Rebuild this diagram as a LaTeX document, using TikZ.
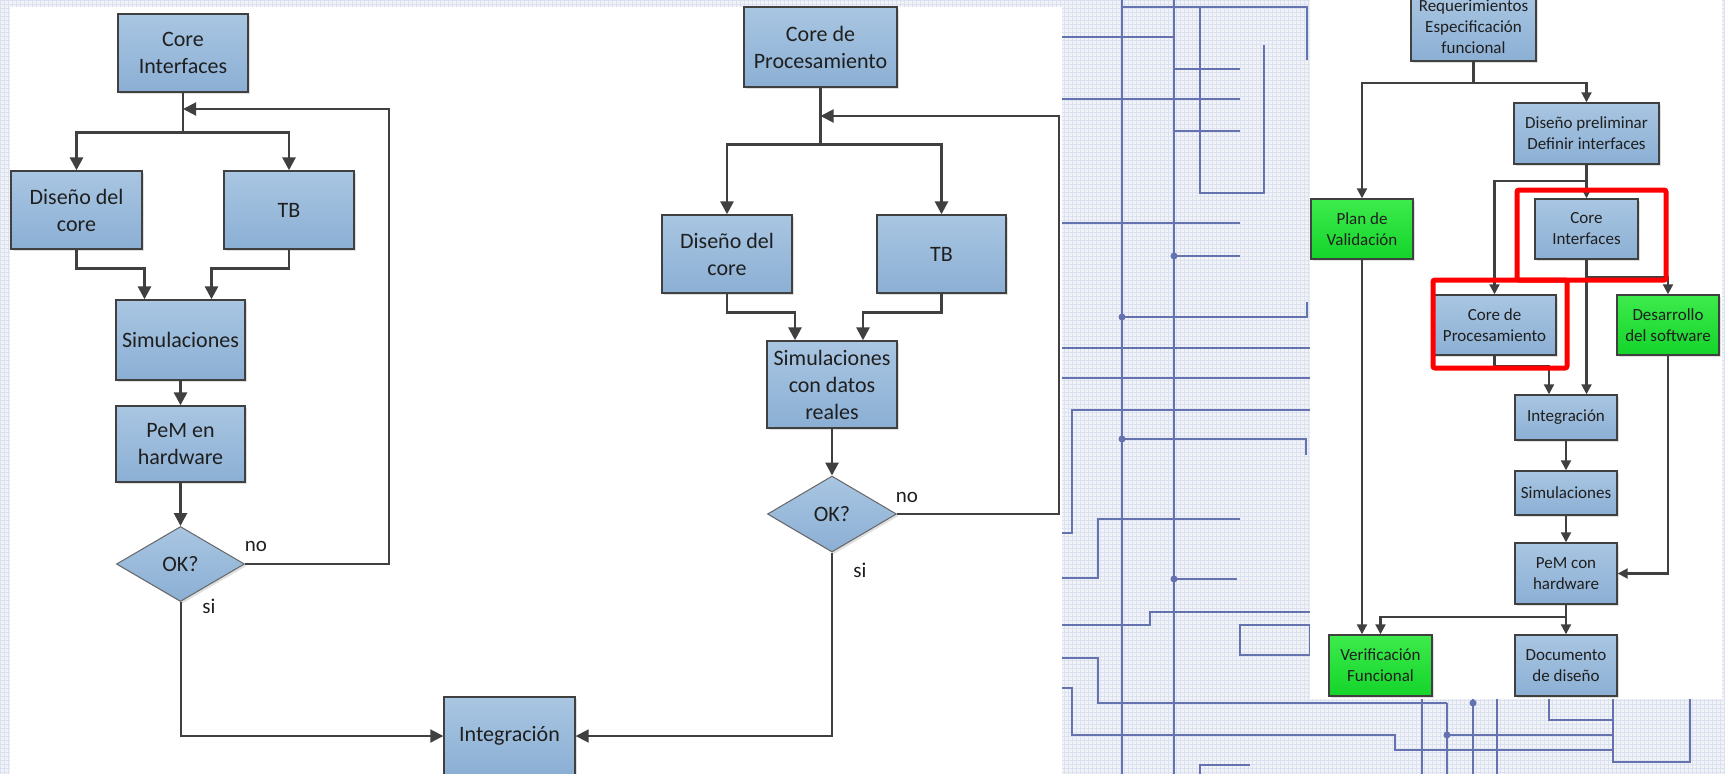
\documentclass[tikz,border=0pt]{standalone}
\usepackage{fontspec}
\setmainfont{Carlito}
\usetikzlibrary{arrows.meta,shapes.geometric,shadows}

\definecolor{bt}{HTML}{A9C6E2}
\definecolor{bb}{HTML}{8BAFD4}
\definecolor{gt}{HTML}{3DEB4C}
\definecolor{gb}{HTML}{14D42A}
\definecolor{ln}{HTML}{404040}
\definecolor{sk}{HTML}{6473B0}
\definecolor{paper}{HTML}{F1F3F9}
\definecolor{grd}{HTML}{DCE1EF}

\tikzset{
  sz/.style 2 args={minimum width=#1pt, minimum height=#2pt},
  box/.style={draw=ln, line width=1.4pt, top color=bt, bottom color=bb,
    inner sep=0pt, align=center, text=black!88,
    drop shadow={shadow xshift=2pt, shadow yshift=-2pt, opacity=0.25, fill=black!50}},
  bigbox/.style={box, font=\fontsize{22pt}{27pt}\selectfont},
  smallbox/.style={box, font=\fontsize{17pt}{21pt}\selectfont},
  grn/.style={top color=gt, bottom color=gb},
  ask/.style={bigbox, diamond, line width=1pt, draw=ln!80},
  arr/.style={draw=ln, line width=2.8pt, -{Triangle[length=13pt,width=13pt]}},
  back/.style={draw=ln, line width=2pt, -{Triangle[length=13pt,width=13pt]}},
  rarr/.style={draw=ln, line width=2.1pt, -{Triangle[length=10pt,width=10pt]}},
  lbl/.style={inner sep=0pt, text=black!88, font=\fontsize{21pt}{25pt}\selectfont},
  hilite/.style={draw=red, line width=5pt, rounded corners=2pt}
}

\begin{document}
\begin{tikzpicture}[x=1pt,y=-1pt]
  \useasboundingbox (0,0) rectangle (1725,774);
  \begin{scope}
  \clip (0,0) rectangle (1725,774);

  % the blueprint behind
  \fill[paper] (0,0) rectangle (1725,774);
  \draw[grd, line width=0.4pt, step=4pt] (0,0) grid (1725,774);
  \draw[sk, line width=1.4pt]
    (1122,0) -- (1122,774) (1174,0) -- (1174,774)
    (1122,7) -- (1307,7) -- (1307,60)
    (1060,37) -- (1174,37)
    (1200,7) -- (1200,193) -- (1264,193) -- (1264,45)
    (1174,69) -- (1240,69) (1060,99) -- (1240,99) (1174,131) -- (1240,131)
    (1060,223) -- (1240,223) (1174,256) -- (1240,256)
    (1122,317) -- (1307,317) -- (1307,302)
    (1060,348) -- (1310,348) (1060,378) -- (1310,378)
    (1060,533) -- (1072,533) -- (1072,410) -- (1310,410)
    (1122,439) -- (1306,439) -- (1306,455)
    (1060,578) -- (1098,578) -- (1098,519) -- (1240,519)
    (1174,579) -- (1237,579)
    (1060,625) -- (1150,625) -- (1150,612) -- (1310,612)
    (1060,658) -- (1098,658) -- (1098,703) -- (1447,703)
    (1060,688) -- (1072,688) -- (1072,735) -- (1395,735) -- (1395,750) -- (1613,750)
    (1240,625) rectangle (1310,655)
    (1200,774) -- (1200,765) -- (1250,765)
    (1422,699) -- (1422,774) (1447,703) -- (1447,774)
    (1473,699) -- (1473,774) (1497,699) -- (1497,774)
    (1549,699) -- (1549,720) -- (1613,720)
    (1447,735) -- (1613,735)
    (1613,699) -- (1613,762) -- (1690,762) -- (1690,699);
  \foreach \p in {(1122,317),(1122,439),(1174,256),(1174,579),(1447,735),(1473,703)}
    \fill[sk] \p circle (3.5pt);

  % white sheets
  \fill[white] (10,7) rectangle (1062,774);
  \fill[white] (1310,0) rectangle (1722,699);

  % left flow: core interfaces
  \node[bigbox, sz={130}{78}] (liCore) at (183,53) {Core\\Interfaces};
  \node[bigbox, sz={131}{78}] (liDis) at (76.5,210) {Diseño del\\core};
  \node[bigbox, sz={130}{78}] (liTB) at (289,210) {TB};
  \node[bigbox, sz={129}{80}] (liSim) at (180.5,340) {Simulaciones};
  \node[bigbox, sz={129}{76}] (liPeM) at (180.5,444) {PeM en\\hardware};
  \node[ask, sz={128}{75}] (liOK) at (180.5,564) {OK?};
  \node[bigbox, sz={131}{78}] (integ) at (509.5,736) {Integración};

  \draw[arr] (liCore.south) -- ++(0,40) -| (liDis.north);
  \draw[arr] (liCore.south) -- ++(0,40) -| (liTB.north);
  \draw[arr] (liDis.south) -- ++(0,19) -| ([xshift=-36pt]liSim.north);
  \draw[arr] (liTB.south) -- ++(0,19) -| ([xshift=31pt]liSim.north);
  \draw[arr] (liSim) -- (liPeM);
  \draw[arr] (liPeM) -- (liOK);
  % no: back up, si: on to integration
  \coordinate (liloop) at (389,109);
  \draw[back] (liOK.east) -| (liloop) -- (liloop -| liCore.south);
  \draw[back] (liOK.south) |- (integ.west);
  \node[lbl] (lino) at (256,546) {no};
  \node[lbl] (lisi) at (209,606) {si};

  % middle flow: core de procesamiento
  \node[bigbox, sz={153}{80}] (miCore) at (820.5,47) {Core de\\Procesamiento};
  \node[bigbox, sz={130}{78}] (miDis) at (727,254) {Diseño del\\core};
  \node[bigbox, sz={129}{78}] (miTB) at (941.5,254) {TB};
  \node[bigbox, sz={130}{87}] (miSim) at (832,384.5) {Simulaciones\\con datos\\reales};
  \node[ask, sz={129}{76}] (miOK) at (832,514) {OK?};

  \draw[arr] (miCore.south) -- ++(0,57) -| (miDis.north);
  \draw[arr] (miCore.south) -- ++(0,57) -| (miTB.north);
  \draw[arr] (miDis.south) -- ++(0,19) -| ([xshift=-37pt]miSim.north);
  \draw[arr] (miTB.south) -- ++(0,19) -| ([xshift=31pt]miSim.north);
  \draw[arr] (miSim) -- (miOK);
  \coordinate (miloop) at (1059,116);
  \draw[back] (miOK.east) -| (miloop) -- (miloop -| miCore.south);
  \draw[back] (miOK.south) |- (integ.east);
  \node[lbl] (mino) at (907,497) {no};
  \node[lbl] (misi) at (860,570) {si};

  % right flow: the whole design
  \node[smallbox, sz={125}{68}] (reqs) at (1473.5,27) {Requerimientos\\Especificación\\funcional};
  \node[smallbox, sz={145}{61}] (dpre) at (1586.5,133.5) {Diseño preliminar\\Definir interfaces};
  \node[smallbox, grn, sz={102}{60}] (plan) at (1362,229) {Plan de\\Validación};
  \node[smallbox, sz={103}{60}] (rcI) at (1586.5,229) {Core\\Interfaces};
  \node[smallbox, sz={123}{60}] (rcP) at (1494.5,325) {Core de\\Procesamiento};
  \node[smallbox, grn, sz={102}{60}] (desa) at (1668,325) {Desarrollo\\del software};
  \node[smallbox, sz={102}{45}] (rint) at (1566,417.5) {Integración};
  \node[smallbox, sz={102}{44}] (rsim) at (1566,493) {Simulaciones};
  \node[smallbox, sz={102}{61}] (rpem) at (1566,573.5) {PeM con\\hardware};
  \node[smallbox, grn, sz={103}{61}] (veri) at (1380.5,665.5) {Verificación\\Funcional};
  \node[smallbox, sz={102}{61}] (doc) at (1566,665.5) {Documento\\de diseño};

  \draw[rarr] (reqs.south) -- ++(0,21) -| (plan.north);
  \draw[rarr] (reqs.south) -- ++(0,21) -| (dpre.north);
  \draw[rarr] (dpre) -- (rcI);
  \draw[rarr] (dpre.south) -- ++(0,16) -| (rcP.north);
  \draw[rarr] (rcI.south) -- ++(0,17) -| (desa.north);
  \draw[rarr] (rcI.south) -- (rcI.south |- rint.north);
  \draw[rarr] (rcP.south) -- ++(0,10) -| ([xshift=-17pt]rint.north);
  \draw[rarr] (rint) -- (rsim);
  \draw[rarr] (rsim) -- (rpem);
  \draw[rarr] (desa.south) |- (rpem.east);
  \draw[rarr] (plan.south) -- (plan.south |- veri.north);
  \draw[rarr] (rpem.south) -- ++(0,12) -| (veri.north);
  \draw[rarr] (rpem) -- (doc);

  % red marks on the two cores
  \draw[hilite] (1517,190) rectangle (1666,280);
  \draw[hilite] (1433,280) rectangle (1567,368);
  \end{scope}
\end{tikzpicture}
\end{document}
